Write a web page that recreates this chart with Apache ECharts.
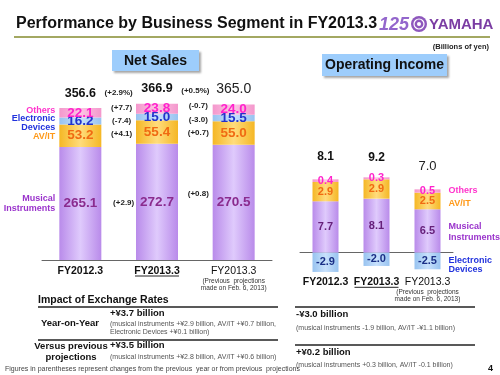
<!DOCTYPE html>
<html><head><meta charset="utf-8">
<script src="https://cdn.jsdelivr.net/npm/echarts@6/dist/echarts.min.js"></script>
<style>html,body{margin:0;padding:0;background:#fff}#c{width:500px;height:375px}</style>
</head><body><div id="c"></div>
<script>
// ---- data ----
const categories = ['FY2012.3', 'FY2013.3', 'FY2013.3 (Previous projections made on Feb. 6, 2013)'];
const nsMusical = [265.1, 272.7, 270.5];
const nsAVIT = [53.2, 55.4, 55.0];
const nsElectronic = [16.2, 15.0, 15.5];
const nsOthers = [22.1, 23.8, 24.0];
const nsTotals = [356.6, 366.9, 365.0];
const nsTotalChanges = ['(+2.9%)', '(+0.5%)'];
const nsChangesOthers = ['(+7.7)', '(-0.7)'];
const nsChangesElectronic = ['(-7.4)', '(-3.0)'];
const nsChangesAVIT = ['(+4.1)', '(+0.7)'];
const nsChangesMusical = ['(+2.9)', '(+0.8)'];
const oiMusical = [7.7, 8.1, 6.5];
const oiAVIT = [2.9, 2.9, 2.5];
const oiOthers = [0.4, 0.3, 0.5];
const oiElectronic = [-2.9, -2.0, -2.5];
const oiTotals = [8.1, 9.2, 7.0];
const segmentNames = ['Musical Instruments', 'AV/IT', 'Electronic Devices', 'Others'];

const FONT = '"Liberation Sans", Arial, sans-serif';
const C = {
  mi: '#8a2b8e', av: '#f06a12', ed: '#2233cc', ot: '#ff22cc',
  miD: '#66207a', edD: '#1a2f86'
};
function grad(edge, mid) {
  return new echarts.graphic.LinearGradient(0, 0, 1, 0, [
    {offset: 0, color: edge}, {offset: 0.5, color: mid}, {offset: 1, color: edge}]);
}
const FILL = {
  mi: () => grad('#b98bea', '#dfcafc'),
  av: () => grad('#f5b725', '#ffdc7c'),
  ed: () => grad('#98c3f0', '#c8e1fc'),
  ot: () => grad('#f497cc', '#fcc6e4')
};

function axisLabelFmt(v, i) {
  if (i === 0) return '{b|FY2012.3}';
  if (i === 1) return '{b|FY2013.3}';
  return '{n|FY2013.3}\n{s|(Previous  projections}\n{s|made on Feb. 6, 2013)}';
}
const axisRich = {
  b: {fontFamily: FONT, fontWeight: 'bold', fontSize: 10.5, color: '#111', lineHeight: 12},
  n: {fontFamily: FONT, fontSize: 10.5, color: '#111', lineHeight: 12},
  s: {fontFamily: FONT, fontSize: 6.5, color: '#333', lineHeight: 7.5}
};

function segLabel(color, size) {
  return {show: true, position: 'inside', fontFamily: FONT, fontWeight: 'bold',
    fontSize: size, color: color, formatter: p => Number(p.value).toFixed(1)};
}

const nsTop = nsMusical.map((v, i) => v + nsAVIT[i] + nsElectronic[i] + nsOthers[i]);
const oiTop = oiMusical.map((v, i) => v + oiAVIT[i] + oiOthers[i]);
const OI_MIN = -3.4, OI_MAX = 25;

const chart = echarts.init(document.getElementById('c'), null, {renderer: 'canvas'});
const option = {
  animation: false,
  backgroundColor: '#fff',
  grid: [
    {left: 42, width: 230, top: 47, height: 213},
    {left: 300, width: 153, top: 86, height: 189.3}
  ],
  xAxis: [
    {type: 'category', gridIndex: 0, data: categories,
      axisLine: {lineStyle: {color: '#666', width: 1}},
      axisTick: {inside: true, length: 4, lineStyle: {color: '#666'}},
      axisLabel: {margin: 5, interval: 0, formatter: axisLabelFmt, rich: axisRich}},
    {type: 'category', gridIndex: 1, data: categories,
      axisLine: {onZero: true, lineStyle: {color: '#666', width: 1}},
      axisTick: {inside: true, length: 4, lineStyle: {color: '#666'}},
      axisLabel: {margin: 1, interval: 0, formatter: axisLabelFmt, rich: axisRich}}
  ],
  yAxis: [
    {type: 'value', gridIndex: 0, min: 0, max: 500, show: false},
    {type: 'value', gridIndex: 1, min: OI_MIN, max: OI_MAX, show: false}
  ],
  series: [
    {type: 'bar', name: segmentNames[0], xAxisIndex: 0, yAxisIndex: 0, stack: 'ns', barWidth: 42,
      data: nsMusical, itemStyle: {color: FILL.mi()}, label: segLabel(C.mi, 13.5)},
    {type: 'bar', name: segmentNames[1], xAxisIndex: 0, yAxisIndex: 0, stack: 'ns', barWidth: 42,
      data: nsAVIT, itemStyle: {color: FILL.av()}, label: segLabel(C.av, 13.5)},
    {type: 'bar', name: segmentNames[2], xAxisIndex: 0, yAxisIndex: 0, stack: 'ns', barWidth: 42,
      data: nsElectronic, itemStyle: {color: FILL.ed()}, label: segLabel(C.ed, 13.5)},
    {type: 'bar', name: segmentNames[3], xAxisIndex: 0, yAxisIndex: 0, stack: 'ns', barWidth: 42,
      data: nsOthers, itemStyle: {color: FILL.ot()}, label: segLabel(C.ot, 13.5)},
    {type: 'scatter', xAxisIndex: 0, yAxisIndex: 0, symbolSize: 1,
      itemStyle: {color: 'rgba(0,0,0,0)', opacity: 1},
      data: nsTop.map((t, i) => ({value: [i, t],
        label: i === 2 ? {fontWeight: 'normal', fontSize: 14, color: '#222'} : {}})),
      label: {show: true, position: 'top', distance: 8, fontFamily: FONT, fontWeight: 'bold',
        fontSize: 12.5, color: '#111', formatter: p => nsTotals[p.dataIndex].toFixed(1)}},

    {type: 'bar', name: segmentNames[0], xAxisIndex: 1, yAxisIndex: 1, stack: 'oi', barWidth: 26,
      data: oiMusical, itemStyle: {color: FILL.mi()}, label: segLabel(C.miD, 11)},
    {type: 'bar', name: segmentNames[1], xAxisIndex: 1, yAxisIndex: 1, stack: 'oi', barWidth: 26,
      data: oiAVIT, itemStyle: {color: FILL.av()}, label: segLabel(C.av, 11)},
    {type: 'bar', name: segmentNames[3], xAxisIndex: 1, yAxisIndex: 1, stack: 'oi', barWidth: 26,
      data: oiOthers, itemStyle: {color: FILL.ot()}, label: segLabel(C.ot, 11)},
    {type: 'bar', name: segmentNames[2], xAxisIndex: 1, yAxisIndex: 1, stack: 'oi', barWidth: 26,
      data: oiElectronic, itemStyle: {color: FILL.ed()}, label: segLabel(C.edD, 11)},
    {type: 'scatter', xAxisIndex: 1, yAxisIndex: 1, symbolSize: 1,
      itemStyle: {color: 'rgba(0,0,0,0)', opacity: 1},
      data: oiTop.map((t, i) => ({value: [i, t],
        label: i === 2 ? {fontWeight: 'normal', fontSize: 13, color: '#222', distance: 16}
          : (i === 1 ? {distance: 13} : {})})),
      label: {show: true, position: 'top', distance: 16, fontFamily: FONT, fontWeight: 'bold',
        fontSize: 12, color: '#111', formatter: p => oiTotals[p.dataIndex].toFixed(1)}}
  ]
};
chart.setOption(option);

// ---- annotations, positioned through the chart's own scales ----
function px(g, i, v) { return chart.convertToPixel({gridIndex: g}, [i, v]); }
function txt(x, y, text, font, fill, align, extra) {
  return {type: 'text', x: x, y: y, silent: true,
    style: Object.assign({text: text, font: font, fill: fill,
      align: align || 'left', textAlign: align || 'left',
      verticalAlign: 'middle', textVerticalAlign: 'middle'}, extra || {})};
}
const g = [];
// title
g.push(txt(16, 24, 'Performance by Business Segment in FY2013.3', 'bold 16px ' + FONT, '#111'));
g.push({type: 'line', shape: {x1: 14, y1: 37, x2: 490, y2: 37}, style: {stroke: '#a3a862', lineWidth: 2}});
// logo
g.push(txt(379, 25, '125', 'bold italic 18px ' + FONT, '#9366cc'));
g.push({type: 'circle', shape: {cx: 419, cy: 24, r: 8}, style: {fill: '#8e58bd'}});
g.push({type: 'circle', shape: {cx: 419, cy: 24, r: 5}, style: {fill: 'none', stroke: '#fff', lineWidth: 1.2}});
g.push({type: 'circle', shape: {cx: 419, cy: 24, r: 2}, style: {fill: '#fff'}});
g.push(txt(429, 25, 'YAMAHA', 'bold 15px ' + FONT, '#7b3da3'));
g.push(txt(489, 47, '(Billions of yen)', 'bold 7.5px ' + FONT, '#222', 'right'));
// header boxes
g.push({type: 'rect', shape: {x: 112, y: 50, width: 87, height: 21},
  style: {fill: '#9dcdfc', shadowBlur: 2, shadowOffsetX: 2, shadowOffsetY: 2, shadowColor: 'rgba(0,0,0,0.35)'}});
g.push(txt(155.5, 61, 'Net Sales', 'bold 14px ' + FONT, '#111', 'center'));
g.push({type: 'rect', shape: {x: 322, y: 54, width: 125, height: 22},
  style: {fill: '#9dcdfc', shadowBlur: 2, shadowOffsetX: 2, shadowOffsetY: 2, shadowColor: 'rgba(0,0,0,0.35)'}});
g.push(txt(384.5, 65.5, 'Operating Income', 'bold 14px ' + FONT, '#111', 'center'));

// net sales segment centers
function nsCenter(i, seg) {
  const arrs = [nsMusical, nsAVIT, nsElectronic, nsOthers];
  let base = 0;
  for (let k = 0; k < seg; k++) base += arrs[k][i];
  return px(0, i, base + arrs[seg][i] / 2);
}
function oiCenter(i, seg) {
  const arrs = [oiMusical, oiAVIT, oiOthers];
  if (seg === 3) return px(1, i, oiElectronic[i] / 2);
  let base = 0;
  for (let k = 0; k < seg; k++) base += arrs[k][i];
  return px(1, i, base + arrs[seg][i] / 2);
}
const chgF = 'bold 8px ' + FONT;
const chgSets = [[nsChangesMusical, 0], [nsChangesAVIT, 1], [nsChangesElectronic, 2], [nsChangesOthers, 3]];
for (let i = 0; i < 2; i++) {
  const xm = (px(0, i, 0)[0] + px(0, i + 1, 0)[0]) / 2;
  chgSets.forEach(([arr, seg]) => {
    let y = (nsCenter(i, seg)[1] + nsCenter(i + 1, seg)[1]) / 2;
    if (seg === 3) y -= 3;
    if (seg === 2) y += 2;
    if (seg === 0 && i === 1) y -= 8;
    g.push(txt(xm + (seg === 0 && i === 0 ? 5 : 3), y, arr[i], chgF, '#222', 'center'));
  });
  const yt = (px(0, i, nsTop[i])[1] + px(0, i + 1, nsTop[i + 1])[1]) / 2 - 13;
  g.push(txt(xm, yt, nsTotalChanges[i], chgF, '#222', 'center'));
}
// net sales side legend (left of first bar)
const lx = px(0, 0, 0)[0] - 25;
const sideF = 'bold 9px ' + FONT;
g.push(txt(lx, nsCenter(0, 3)[1] - 2, 'Others', sideF, '#ff33cc', 'right'));
g.push(txt(lx, nsCenter(0, 2)[1] + 2, 'Electronic\nDevices', sideF, '#2233dd', 'right', {lineHeight: 9.5}));
g.push(txt(lx, nsCenter(0, 1)[1] + 1, 'AV/IT', sideF, '#ff9a1a', 'right'));
g.push(txt(lx, nsCenter(0, 0)[1], 'Musical\nInstruments', sideF, '#9a33cc', 'right', {lineHeight: 10.5}));
// operating income side legend (right of last bar)
const rx = px(1, 2, 0)[0] + 21;
g.push(txt(rx, oiCenter(2, 2)[1], 'Others', sideF, '#ff33cc'));
g.push(txt(rx, oiCenter(2, 1)[1] + 3, 'AV/IT', sideF, '#ff9a1a'));
g.push(txt(rx, oiCenter(2, 0)[1] + 1, 'Musical\nInstruments', sideF, '#9a33cc', 'left', {lineHeight: 10.5}));
g.push(txt(rx, oiCenter(2, 3)[1] + 4, 'Electronic\nDevices', sideF, '#2233dd', 'left', {lineHeight: 9.5}));
// underline under current-year category labels (grid bottom + label offset)
[[0, 0, 16], [1, OI_MIN, 12]].forEach(([gi, v, off]) => {
  const p = px(gi, 1, v);
  g.push({type: 'line', shape: {x1: p[0] - 22, y1: p[1] + off, x2: p[0] + 22, y2: p[1] + off},
    style: {stroke: '#222', lineWidth: 1}});
});

// exchange-rate table
const hF = 'bold 10.5px ' + FONT, bF = 'bold 9.5px ' + FONT, sF = '7px ' + FONT;
g.push(txt(38, 300, 'Impact of Exchange Rates', hF, '#111'));
g.push({type: 'line', shape: {x1: 38, y1: 307, x2: 278, y2: 307}, style: {stroke: '#222', lineWidth: 1.5}});
g.push({type: 'line', shape: {x1: 38, y1: 340, x2: 278, y2: 340}, style: {stroke: '#222', lineWidth: 1.5}});
g.push(txt(70, 323, 'Year-on-Year', bF, '#111', 'center'));
g.push(txt(110, 313, '+\u00a53.7 billion', bF, '#111'));
g.push(txt(110, 324, '(musical instruments +\u00a52.9 billion, AV/IT +\u00a50.7 billion,', sF, '#555'));
g.push(txt(110, 332, 'Electronic Devices +\u00a50.1 billion)', sF, '#555'));
g.push(txt(71, 346, 'Versus previous', bF, '#111', 'center'));
g.push(txt(71, 357, 'projections', bF, '#111', 'center'));
g.push(txt(110, 345, '+\u00a53.5 billion', bF, '#111'));
g.push(txt(110, 357, '(musical instruments +\u00a52.8 billion, AV/IT +\u00a50.6 billion)', sF, '#555'));
g.push({type: 'line', shape: {x1: 295, y1: 307, x2: 475, y2: 307}, style: {stroke: '#222', lineWidth: 1.5}});
g.push({type: 'line', shape: {x1: 295, y1: 345, x2: 475, y2: 345}, style: {stroke: '#222', lineWidth: 1.5}});
g.push(txt(296, 314, '-\u00a53.0 billion', bF, '#111'));
g.push(txt(296, 328, '(musical instruments -1.9 billion, AV/IT -\u00a51.1 billion)', sF, '#555'));
g.push(txt(296, 352, '+\u00a50.2 billion', bF, '#111'));
g.push(txt(296, 365, '(musical instruments +0.3 billion, AV/IT -0.1 billion)', sF, '#555'));
// footer
g.push(txt(5, 369, 'Figures in parentheses represent changes from the previous  year or from previous  projections', sF, '#444'));
g.push(txt(493, 369, '4', 'bold 9px ' + FONT, '#111', 'right'));

chart.setOption({graphic: g});
</script></body></html>
